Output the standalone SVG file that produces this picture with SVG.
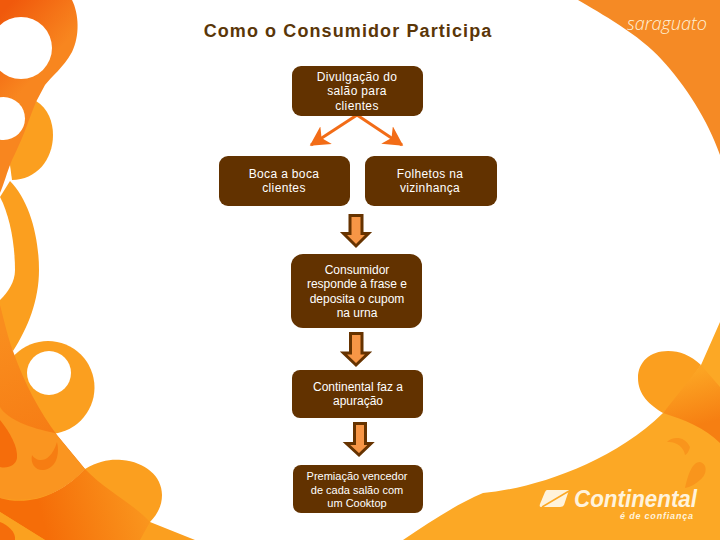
<svg xmlns="http://www.w3.org/2000/svg" width="720" height="540" viewBox="0 0 720 540">
<defs>
<linearGradient id="g1" gradientUnits="userSpaceOnUse" x1="0" y1="15" x2="50" y2="60"><stop offset="0" stop-color="#f0590c"/><stop offset="1" stop-color="#f8861f"/></linearGradient>
<linearGradient id="g2" gradientUnits="userSpaceOnUse" x1="40" y1="510" x2="150" y2="480"><stop offset="0" stop-color="#f56d08"/><stop offset="1" stop-color="#fa9a20"/></linearGradient>
<linearGradient id="g3" gradientUnits="userSpaceOnUse" x1="685" y1="375" x2="700" y2="425"><stop offset="0" stop-color="#fca423"/><stop offset="1" stop-color="#f67f12"/></linearGradient>
<linearGradient id="g4" gradientUnits="userSpaceOnUse" x1="10" y1="330" x2="50" y2="440"><stop offset="0" stop-color="#f98d1e"/><stop offset="1" stop-color="#f67c14"/></linearGradient>
<marker id="ah" markerWidth="7" markerHeight="7" refX="6" refY="3.5" orient="auto" markerUnits="strokeWidth"><path d="M0,0 L6.500,3.500 L0,7 L1.800,3.500 Z" fill="#f26c17"/></marker>
</defs>
<style>
.n{fill:#623200}
.t{font-family:"Liberation Sans",Arial,sans-serif;font-size:12px;fill:#fff;text-anchor:middle}
.h{letter-spacing:.35px}
.s{font-size:11px}
.b{stroke:#663300;stroke-width:3;fill:#f79646;stroke-linejoin:miter}
.c{stroke:#f26c17;stroke-width:3;fill:none;marker-end:url(#ah)}
.y{fill:#fb9f1f}
.w{fill:#fff}
</style>
<rect width="720" height="540" fill="#fff"/>
<g id="background">
<path class="y" d="M36 101C48 108 53 122 53 135C53 160 36 180 12 180L8 150Z"/>
<path d="M0 0H72C79 14 80 36 72 52C63 68 52 76 45 85L37 100C30 115 26 132 12 160C7 172 4 184 0 193Z" fill="url(#g1)"/>
<circle class="w" cx="21" cy="48" r="31"/>
<circle class="w" cx="3.500" cy="118.500" r="21.500"/>
<path class="y" d="M10 181C29 200 39 236 39 270C39 300 28 328 13 351L0 330V197C10 216 15 245 15 270C15 282 8 292 0 300V197Z"/>
<path class="w" d="M0 197C10 216 15 245 15 270C15 282 8 292 0 300Z"/>
<circle class="y" cx="48" cy="387.500" r="46.500"/>
<circle class="w" cx="49" cy="373" r="22"/>
<path d="M0 305C4 320 8 338 13 351C25 385 40 412 57 435L85 469C60 495 30 505 0 498Z" fill="url(#g4)"/>
<path d="M0 407C8 420 30 428 55 433L85 469C62 494 30 507 0 498Z" fill="#fa9520"/>
<path d="M85 469C100 460 112 459 122 460C145 462 162 476 162 495C162 506 157 515 150 522L195 540H0V498C40 505 65 490 85 469Z" class="y"/>
<path d="M85 469C62 494 30 507 0 498V512L45 540H140L150 522C135 505 105 490 85 469Z" fill="url(#g2)"/>
<path d="M0 512L45 540H0Z" fill="#fba11f"/>
<path d="M0 522C8 525 16 532 15 540H0Z" fill="#f56d0b"/>
<path d="M0 420C10 432 18 447 17 458C16 465 8 469 0 467Z" fill="#f56d0b"/>
<path d="M32 455C36 462 50 465 57 442C60 455 56 468 44 470C36 471 30 464 32 455Z" fill="#f67d12"/>
<path d="M578 0C600 13 640 35 662 60C685 85 708 120 720 155V0Z" fill="#f58a25"/>
<path d="M403 540C430 522 455 505 483 493C530 489 610 465 663 413L701 365L720 322V540Z" fill="#fca825"/>
<path class="y" d="M701 365C690 355 680 351 668 351C650 351 638 362 638 378C638 395 650 405 663 413C680 395 690 380 701 365Z"/>
<path d="M701 365L720 387V443C705 428 685 420 663 413Z" fill="url(#g3)"/>
<path d="M667 442C672 437 684 435 690 447C689 452 686 455 685 455C684 447 676 441 667 442Z" fill="#f9951c"/>
<path d="M685 488C688 475 692 462 700 462C708 464 707 475 700 480C696 484 690 487 685 488Z" fill="#f9951c"/>
</g>
<text x="348" y="37" font-family="Liberation Sans,Arial,sans-serif" font-size="18" font-weight="700" fill="#5a3608" text-anchor="middle" letter-spacing="1.1">Como o Consumidor Participa</text>
<text x="667" y="30" font-family="Open Sans,sans-serif" font-weight="300" font-style="italic" font-size="19" fill="#fff2d8" text-anchor="middle" textLength="80" lengthAdjust="spacingAndGlyphs">saraguato</text>
<g id="logo-continental">
<path d="M547 490H569L564 505Q563 507 560 507H541Q539 507 540 504L545 492Q546 490 547 490Z" fill="#fff3dc"/>
<path d="M542 507L569 491" stroke="#fca825" stroke-width="1.500" fill="none"/>
<text x="635.500" y="507" font-family="Liberation Sans,Arial,sans-serif" font-size="23" font-weight="700" font-style="italic" fill="#fff3dc" text-anchor="middle" textLength="123" lengthAdjust="spacingAndGlyphs">Continental</text>
<text x="656.500" y="519" font-family="Liberation Sans,Arial,sans-serif" font-size="9" font-weight="700" font-style="italic" fill="#fff3dc" text-anchor="middle" textLength="73" lengthAdjust="spacing">é de confiança</text>
</g>
<g id="connectors">
<path class="c" d="M357 115L311 145"/>
<path class="c" d="M357 115L402 145"/>
<path class="b" d="M350 215.500H362V233.500H368.500L356 246L343.500 233.500H350Z"/>
<path class="b" d="M350.500 333.500H362V353H368.500L356 365L343.500 353H350.500Z"/>
<path class="b" d="M354.500 423.500H365.500V443.500H371L359 455L346.500 443.500H354.500Z"/>
</g>
<g id="n1"><rect class="n" x="292" y="66" width="131" height="50" rx="9"/><text class="t h" x="357" y="81">Divulgação do</text><text class="t h" x="357" y="95">salão para</text><text class="t h" x="357" y="110">clientes</text></g>
<g id="n2"><rect class="n" x="219" y="156" width="131" height="50" rx="9"/><text class="t h" x="284" y="178">Boca a boca</text><text class="t h" x="284" y="192">clientes</text></g>
<g id="n3"><rect class="n" x="365" y="156" width="132" height="50" rx="9"/><text class="t h" x="430" y="178">Folhetos na</text><text class="t h" x="430" y="192">vizinhança</text></g>
<g id="n4"><rect class="n" x="291" y="254" width="131" height="74" rx="12"/><text class="t" x="357" y="274">Consumidor</text><text class="t" x="357" y="288">responde à frase e</text><text class="t" x="357" y="303">deposita o cupom</text><text class="t" x="357" y="317">na urna</text></g>
<g id="n5"><rect class="n" x="292" y="370" width="131" height="48" rx="8"/><text class="t" x="358" y="391">Continental faz a</text><text class="t" x="358" y="405">apuração</text></g>
<g id="n6"><rect class="n" x="293" y="465" width="130" height="48" rx="8"/><text class="t s" x="357" y="480">Premiação vencedor</text><text class="t s" x="357" y="494">de cada salão com</text><text class="t s" x="357" y="507">um Cooktop</text></g>
</svg>
